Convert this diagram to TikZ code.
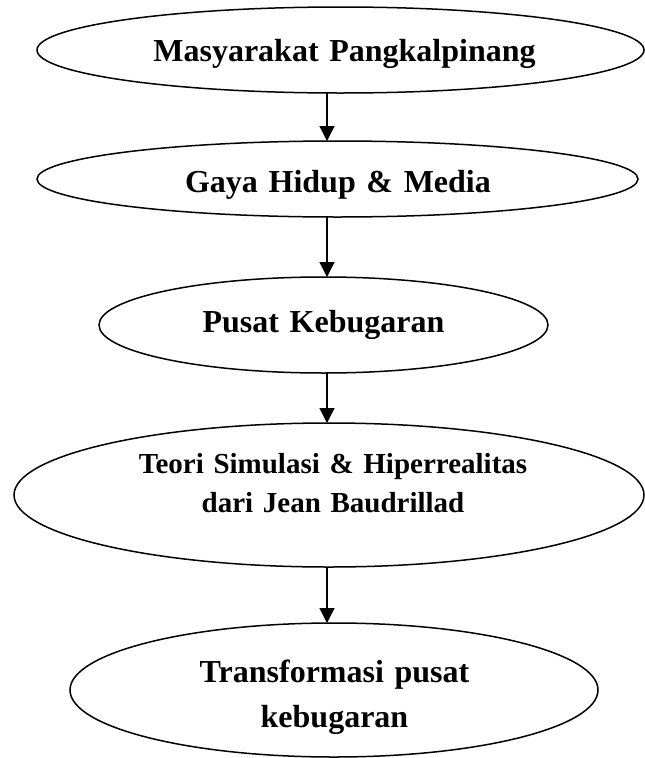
\documentclass[tikz,border=0pt]{standalone}
\usepackage{fontspec}
\setmainfont{Liberation Serif}
\usetikzlibrary{arrows.meta,shapes.geometric}
\tikzset{
  ell/.style={draw=black, line width=1.5pt, ellipse, inner sep=0pt, outer sep=0pt},
  lbl/.style={anchor=base, inner sep=0pt, text width=620pt, align=center,
              font=\bfseries\fontsize{32}{45}\selectfont},
  lblsmall/.style={lbl, font=\bfseries\fontsize{29}{39}\selectfont},
  arr/.style={line width=1.5pt, -{Triangle[length=15pt,width=15pt]}}
}
\begin{document}
\begin{tikzpicture}[x=1pt,y=-1pt]
\useasboundingbox (0,0) rectangle (645,758);
% ellipses
\node[ell, minimum width=607pt, minimum height=86pt]  (e1) at (340.5,50) {};
\node[ell, minimum width=601pt, minimum height=76pt]  (e2) at (337.5,179) {};
\node[ell, minimum width=449pt, minimum height=96pt]  (e3) at (323.5,325) {};
\node[ell, minimum width=630pt, minimum height=144pt] (e4) at (329,495) {};
\node[ell, minimum width=528pt, minimum height=134pt] (e5) at (334,690) {};
% texts
\node[lbl] (t1) at (344.5,61) {Masyarakat Pangkalpinang};
\node[lbl] (t2) at (338,192) {Gaya Hidup \& Media};
\node[lbl] (t3) at (323.5,332) {Pusat Kebugaran};
\node[lblsmall] (t4) at (333,473) {Teori Simulasi \& Hiperrealitas\\dari Jean Baudrillad};
\node[lbl] (t5) at (334.5,682) {Transformasi pusat\\kebugaran};
% arrows
\coordinate (ax) at (327,0);
\draw[arr] (e1.south -| ax) -- (e2.north -| ax);
\draw[arr] (e2.south -| ax) -- (e3.north -| ax);
\draw[arr] (e3.south -| ax) -- (e4.north -| ax);
\draw[arr] (e4.south -| ax) -- (e5.north -| ax);
\end{tikzpicture}
\end{document}
